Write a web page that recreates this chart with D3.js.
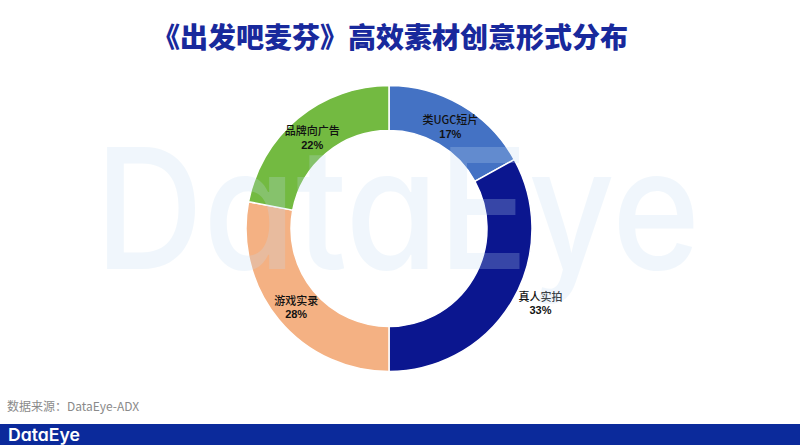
<!DOCTYPE html>
<html>
<head>
<meta charset="utf-8">
<script src="https://cdn.jsdelivr.net/npm/d3@7"></script>
<style>
  body { margin: 0; background: #fff; }
  svg { display: block; }
  .logo { font-feature-settings: "cv11" 1; font-variant-alternates: normal; }
</style>
</head>
<body>
<svg id="chart" width="800" height="445"></svg>
<script>
// data
const categories = ["类UGC短片", "真人实拍", "游戏实录", "品牌向广告"];
const shares = [17, 33, 28, 22];
const colors = ["#4472C4", "#0B168F", "#F4B183", "#73BA41"];
// where each data label goes: on the ring or just outside it
const labelPlacement = ["inside", "outside", "inside", "inside"];

const svg = d3.select("#chart");
const W = 800, H = 445;
const cx = 389, cy = 228.5;
const outerR = 143, innerR = 98;

// title
svg.append("text")
    .attr("x", 390).attr("y", 48)
    .attr("text-anchor", "middle")
    .attr("font-family", "Noto Sans CJK SC")
    .attr("font-weight", 900)
    .attr("font-size", 28)
    .attr("fill", "#18299C")
    .text("《出发吧麦芬》高效素材创意形式分布");

let pie = d3.pie().sort(null).value(d => d.value);
let arcs = pie(categories.map((c, i) => ({ name: c, value: shares[i], color: colors[i], place: labelPlacement[i] })));

let arc = d3.arc().innerRadius(innerR).outerRadius(outerR);

let g = svg.append("g").attr("transform", "translate(" + cx + "," + cy + ")");

g.selectAll("path.slice")
    .data(arcs)
    .enter()
    .append("path")
    .attr("class", "slice")
    .attr("d", arc)
    .attr("fill", d => d.data.color)
    .attr("stroke", "#fff")
    .attr("stroke-width", 1.5);

// watermark sits over the ring
svg.append("text")
    .attr("class", "logo")
    .attr("x", 95).attr("y", 269)
    .attr("textLength", 605)
    .attr("lengthAdjust", "spacingAndGlyphs")
    .attr("font-family", "Inter")
    .attr("font-weight", 500)
    .attr("font-size", 168)
    .attr("fill", "#C3DDF3")
    .attr("opacity", 0.24)
    .text("DataEye");

// labels
let labels = g.selectAll("g.lbl")
    .data(arcs)
    .enter()
    .append("g")
    .attr("class", "lbl")
    .attr("transform", d => {
        let p;
        if (d.data.place === "outside") {
            // nudge a bit toward the start of the slice, like the original
            let a = (d.startAngle + d.endAngle) / 2 - 5 * Math.PI / 180;
            p = [168 * Math.sin(a), -168 * Math.cos(a)];
        } else {
            p = arc.centroid(d);
        }
        return "translate(" + p[0] + "," + (p[1] + 2) + ")";
    });

labels.append("text")
    .attr("y", -2.5)
    .attr("text-anchor", "middle")
    .attr("font-family", "Noto Sans CJK SC")
    .attr("font-weight", 500)
    .attr("font-size", 11)
    .attr("fill", "#111")
    .text(d => d.data.name);

labels.append("text")
    .attr("y", 11)
    .attr("text-anchor", "middle")
    .attr("font-family", "Liberation Sans")
    .attr("font-weight", "bold")
    .attr("font-size", 11)
    .attr("fill", "#111")
    .text(d => d.data.value + "%");

// source note
svg.append("text")
    .attr("x", 7).attr("y", 411)
    .attr("font-family", "Noto Sans CJK SC")
    .attr("font-size", 12)
    .attr("fill", "#8a8a8a")
    .text("数据来源：DataEye-ADX");

// footer bar
svg.append("rect")
    .attr("x", 0).attr("y", 424)
    .attr("width", W).attr("height", H - 424)
    .attr("fill", "#0B2A9B");

svg.append("text")
    .attr("class", "logo")
    .attr("x", 8).attr("y", 441)
    .attr("textLength", 72)
    .attr("lengthAdjust", "spacingAndGlyphs")
    .attr("font-family", "Inter")
    .attr("font-weight", 600)
    .attr("font-size", 17)
    .attr("fill", "#fff")
    .text("DataEye");
</script>
</body>
</html>
